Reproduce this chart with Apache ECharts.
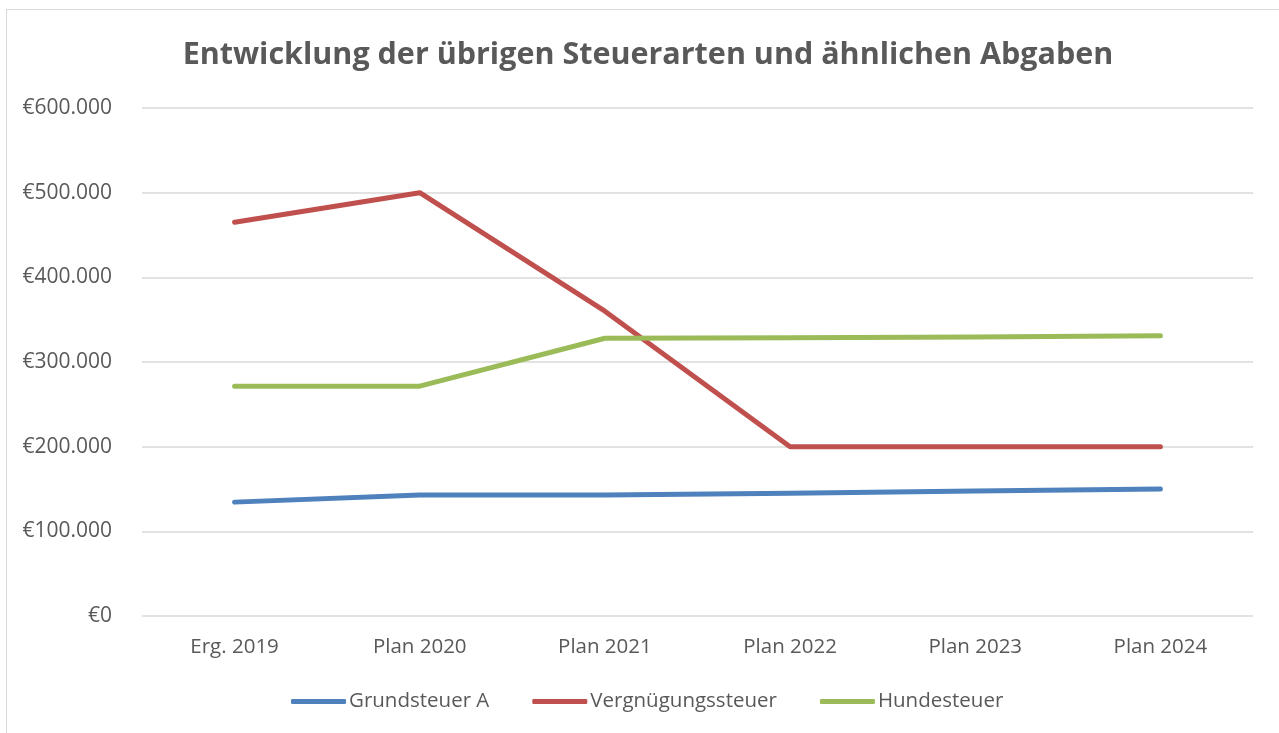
<!DOCTYPE html>
<html>
<head>
<meta charset="utf-8">
<script src="https://cdn.jsdelivr.net/npm/echarts@6/dist/echarts.min.js"></script>
<style>
  html, body { margin: 0; padding: 0; background: #fff; }
  #frame { position: absolute; left: 6px; top: 9px; width: 1300px; height: 800px; border: 1px solid #d9d9d9; box-sizing: border-box; }
  #chart { position: absolute; left: 0; top: 0; width: 1279px; height: 733px; }
</style>
</head>
<body>
<div id="frame"></div>
<div id="chart"></div>
<script>
// Kategorien und Werte
const years = ["Erg. 2019", "Plan 2020", "Plan 2021", "Plan 2022", "Plan 2023", "Plan 2024"];
const grundsteuerA = [134500, 143000, 143000, 145000, 147500, 150000];
const vergnuegungssteuer = [465000, 500000, 360000, 200000, 200000, 200000];
const hundesteuer = [271500, 271500, 328000, 328500, 329500, 331000];

const textColor = "#595959";
const fontName = "'Open Sans', 'Noto Sans', sans-serif";

function euro(v) {
  return "€" + String(v).replace(/\B(?=(\d{3})+(?!\d))/g, ".");
}

var myChart = echarts.init(document.getElementById("chart"));
var option = {
  backgroundColor: "transparent",
  title: {
    text: "Entwicklung der übrigen Steuerarten und ähnlichen Abgaben",
    left: 643,
    textAlign: "center",
    top: 35,
    textStyle: { color: textColor, fontSize: 30.5, fontWeight: "bold", fontFamily: fontName },
  },
  legend: {
    top: 686,
    left: 286,
    itemWidth: 55,
    itemHeight: 5,
    itemGap: 43,
    icon: "roundRect",
    textStyle: { color: textColor, fontSize: 20.5, fontFamily: fontName, padding: [0, 0, 0, -2] },
    data: ["Grundsteuer A", "Vergnügungssteuer", "Hundesteuer"],
  },
  grid: { left: 142, right: 26, top: 108, bottom: 117, containLabel: false },
  xAxis: {
    type: "category",
    data: years,
    boundaryGap: true,
    axisLine: { show: false },
    axisTick: { show: false },
    axisLabel: { color: textColor, fontSize: 20.5, fontFamily: fontName, margin: 21 },
  },
  yAxis: {
    type: "value",
    min: 0,
    max: 600000,
    interval: 100000,
    axisLine: { show: false },
    axisTick: { show: false },
    splitLine: { lineStyle: { color: "#d9d9d9", width: 1.5 } },
    axisLabel: { color: textColor, fontSize: 21, fontFamily: fontName, margin: 30, formatter: euro },
  },
  series: [
    {
      name: "Grundsteuer A", type: "line", data: grundsteuerA, symbol: "none",
      itemStyle: { color: "#4f81bd" }, lineStyle: { width: 5, cap: "round", join: "round" },
    },
    {
      name: "Vergnügungssteuer", type: "line", data: vergnuegungssteuer, symbol: "none",
      itemStyle: { color: "#c0504d" }, lineStyle: { width: 5, cap: "round", join: "round" },
    },
    {
      name: "Hundesteuer", type: "line", data: hundesteuer, symbol: "none",
      itemStyle: { color: "#9bbb59" }, lineStyle: { width: 5, cap: "round", join: "round" },
    },
  ],
};
myChart.setOption(option);
</script>
</body>
</html>
